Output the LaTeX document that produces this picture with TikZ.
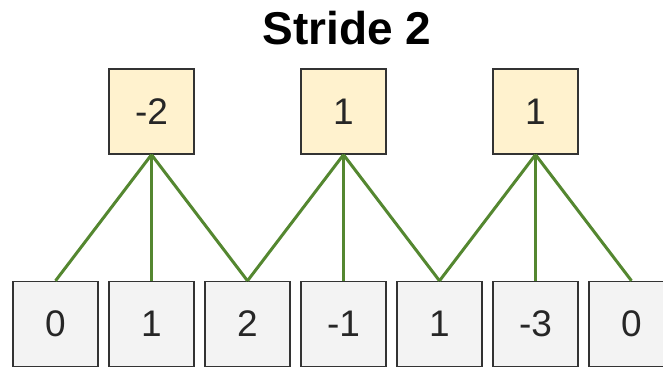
\documentclass[tikz,border=0pt]{standalone}
\usepackage{fontspec}
\setmainfont{Liberation Sans}
\definecolor{topfill}{RGB}{255,242,206}
\definecolor{botfill}{RGB}{243,243,243}
\definecolor{edge}{RGB}{51,51,51}
\definecolor{link}{RGB}{84,135,48}
\begin{document}
\begin{tikzpicture}[x=1pt,y=-1pt,
  cell/.style={draw=edge,line width=1.4pt,minimum width=85pt,minimum height=85pt,inner sep=0pt,font=\fontsize{37}{37}\selectfont,text=black!85},
  topcell/.style={cell,fill=topfill},
  botcell/.style={cell,fill=botfill},
  conn/.style={draw=link,line width=3pt}]
\useasboundingbox (0,0) rectangle (663,369);
\node[font=\bfseries\fontsize{46}{46}\selectfont] (title) at (347,28) {Stride 2};
\foreach \v [count=\i from 0] in {0,1,2,-1,1,-3,0} {
  \node[botcell] (b\i) at ({55.5+96*\i},324) {\v};
}
\node[topcell] (t0) at (151.5,111.5) {-2};
\node[topcell] (t1) at (343.5,111.5) {1};
\node[topcell] (t2) at (535.5,111.5) {1};
\foreach \t/\a/\b/\c in {0/0/1/2,1/2/3/4,2/4/5/6} {
  \draw[conn] (t\t.south) -- (b\a.north);
  \draw[conn] (t\t.south) -- (b\b.north);
  \draw[conn] (t\t.south) -- (b\c.north);
}
\end{tikzpicture}
\end{document}
